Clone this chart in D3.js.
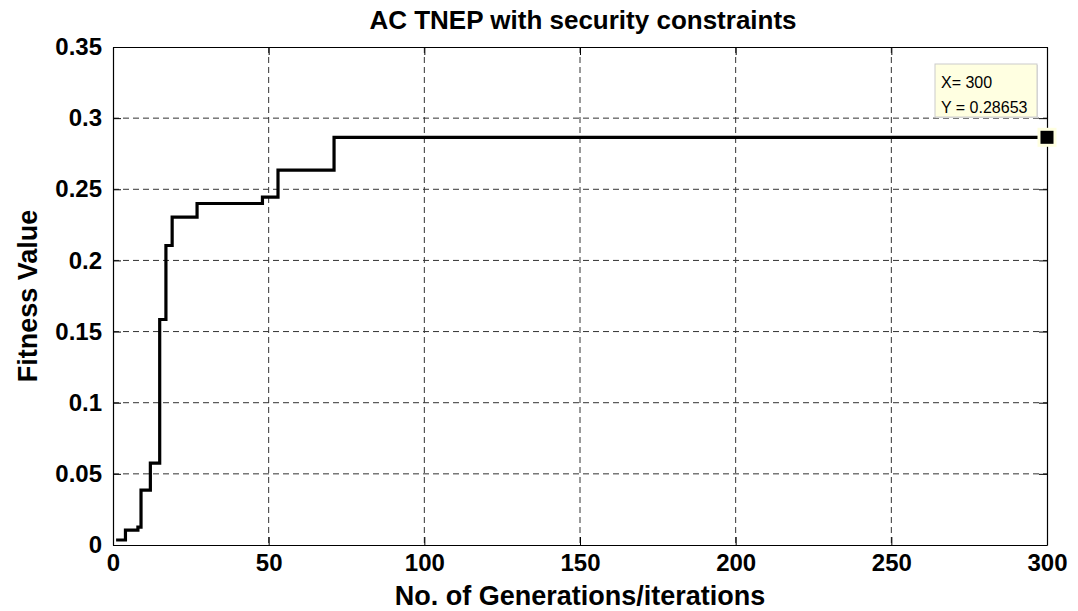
<!DOCTYPE html>
<html><head><meta charset="utf-8">
<script src="https://cdn.jsdelivr.net/npm/d3@7"></script>
<style>body{margin:0;background:#fff}svg{display:block}text{font-family:"Liberation Sans",Arial,sans-serif}</style>
</head><body>
<svg id="c" width="1078" height="611"></svg>
<script>
// Iteration at which the best fitness changes, and the new value
const changeIters = [1, 4, 8, 9, 12, 15, 17, 19, 27, 48, 53, 71];
const fitnessValues = [0.0035, 0.0105, 0.0125, 0.0385, 0.0575, 0.1585, 0.2105, 0.2305, 0.2400, 0.2445, 0.2635, 0.28653];
const lastIter = 300;
const xTicks = [0, 50, 100, 150, 200, 250, 300];
const yTicks = [0, 0.05, 0.1, 0.15, 0.2, 0.25, 0.3, 0.35];
const titleText = "AC TNEP with security constraints";
const xLabel = "No. of Generations/iterations";
const yLabel = "Fitness Value";
const tipLines = ["X= 300", "Y = 0.28653"];

const svg = d3.select("#c");
const L = 113, R = 1047, T = 47, B = 545;
const x = d3.scaleLinear().domain([0, 300]).range([L, R]);
const y = d3.scaleLinear().domain([0, 0.35]).range([B, T]);

// grid
const g = svg.append("g");
g.selectAll(".gx").data(xTicks.slice(1, -1)).join("line")
  .attr("x1", d => x(d)).attr("x2", d => x(d)).attr("y1", T).attr("y2", B)
  .attr("stroke", "#333").attr("stroke-width", 1).attr("stroke-dasharray", "6,4");
g.selectAll(".gy").data(yTicks.slice(1, -1)).join("line")
  .attr("x1", L).attr("x2", R).attr("y1", d => y(d)).attr("y2", d => y(d))
  .attr("stroke", "#333").attr("stroke-width", 1).attr("stroke-dasharray", "6,4");

// axes
const tl = 8;
const ax = svg.append("g").attr("transform", `translate(0,${B})`)
  .call(d3.axisBottom(x).tickValues(xTicks).tickFormat(d3.format("d")).tickSizeInner(-tl).tickSizeOuter(0).tickPadding(9));
const axT = svg.append("g").attr("transform", `translate(0,${T})`)
  .call(d3.axisTop(x).tickValues(xTicks).tickFormat("").tickSizeInner(-tl).tickSizeOuter(0));
const ay = svg.append("g").attr("transform", `translate(${L},0)`)
  .call(d3.axisLeft(y).tickValues(yTicks).tickFormat(d => d === 0 ? "0" : String(d)).tickSizeInner(-tl).tickSizeOuter(0).tickPadding(11));
const ayR = svg.append("g").attr("transform", `translate(${R},0)`)
  .call(d3.axisRight(y).tickValues(yTicks).tickFormat("").tickSizeInner(-tl).tickSizeOuter(0));
[ax, axT, ay, ayR].forEach(a => {
  a.select(".domain").attr("stroke", "#000").attr("stroke-width", 1.2);
  a.selectAll(".tick line").attr("stroke", "#000");
  a.selectAll("text").attr("font-size", 24).attr("font-weight", "bold").attr("fill", "#000")
   .style("font-family", '"Liberation Sans", Arial, sans-serif');
});

// step line
const pts = changeIters.map((it, i) => [it, fitnessValues[i]]);
pts.push([lastIter, fitnessValues[fitnessValues.length - 1]]);
svg.append("path").datum(pts)
  .attr("d", d3.line().x(d => x(d[0])).y(d => y(d[1])).curve(d3.curveStepAfter))
  .attr("fill", "none").attr("stroke", "#000").attr("stroke-width", 3.2);

// data tip
const last = pts[pts.length - 1];
const bx = 935, by = 64, bw = 1037 - 935, bh = 117 - 64;
svg.append("rect").attr("x", bx + 1).attr("y", by + 1).attr("width", bw).attr("height", bh).attr("fill", "#ddd");
svg.append("rect").attr("x", bx).attr("y", by).attr("width", bw).attr("height", bh)
  .attr("fill", "#ffffe1").attr("stroke", "#ccc").attr("stroke-width", 1);
svg.selectAll(".tip").data(tipLines).join("text")
  .attr("x", bx + 6).attr("y", (d, i) => by + 24 + i * 25)
  .attr("font-size", 16).attr("fill", "#000").text(d => d);
svg.append("rect").attr("x", x(last[0]) - 8).attr("y", y(last[1]) - 8).attr("width", 16).attr("height", 16)
  .attr("fill", "#000").attr("stroke", "#ffffe1").attr("stroke-width", 3);

// titles
svg.append("text").attr("x", 583).attr("y", 29).attr("text-anchor", "middle")
  .attr("font-size", 26).attr("font-weight", "bold").text(titleText);
svg.append("text").attr("x", 580).attr("y", 605).attr("text-anchor", "middle")
  .attr("font-size", 27).attr("font-weight", "bold").text(xLabel);
svg.append("text").attr("transform", `translate(37,${(T + B) / 2}) rotate(-90)`).attr("text-anchor", "middle")
  .attr("font-size", 27).attr("font-weight", "bold").text(yLabel);
</script>
</body></html>
